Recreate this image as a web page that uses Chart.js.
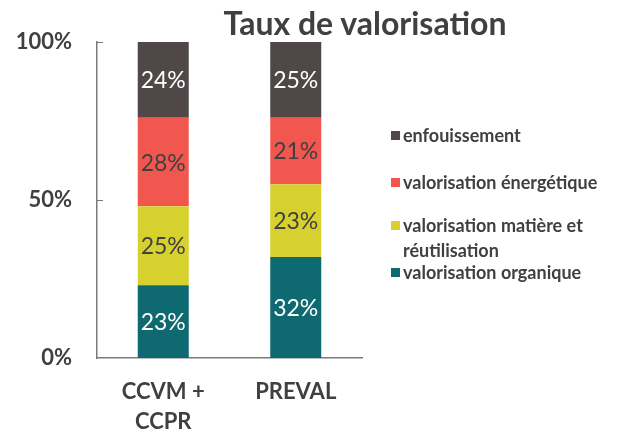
<!DOCTYPE html>
<html>
<head>
<meta charset="utf-8">
<script src="https://cdn.jsdelivr.net/npm/chart.js@4.4.1/dist/chart.umd.min.js"></script>
<style>
  body { margin: 0; background: #fff; }
  #wrap { position: relative; width: 629px; height: 435px; font-family: Lato, "Open Sans", sans-serif; color: #404040; }
  #title { position: absolute; left: 200px; top: 3px; width: 330px; text-align: center; font-size: 32px; font-weight: bold; white-space: nowrap; }
  #legend { position: absolute; left: 391px; top: 123px; font-size: 18px; font-weight: bold; }
  .item { position: absolute; left: 0; white-space: nowrap; line-height: 25px; }
  .item span { position: absolute; left: 0; top: 8px; width: 9px; height: 9px; }
  .item div { margin-left: 12px; }
</style>
</head>
<body>
<div id="wrap">
  <canvas id="chart" width="629" height="435"></canvas>
  <div id="title">Taux de valorisation</div>
  <div id="legend"></div>
</div>
<script>
const categories = [["CCVM +", "CCPR"], "PREVAL"];
const seriesNames = ["valorisation organique", "valorisation matière et réutilisation", "valorisation énergétique", "enfouissement"];
const organique = [23, 32];
const matiere = [25, 23];
const energetique = [28, 21];
const enfouissement = [24, 25];
const yTicks = [0, 50, 100];

const colors = ["#0e6a70", "#d7d12f", "#f1574f", "#504848"];
const labelColors = ["#ffffff", "#404040", "#404040", "#ffffff"];
// legend lines, top to bottom, and their offsets
const legendLines = [["enfouissement"], ["valorisation énergétique"], ["valorisation matière et", "réutilisation"], ["valorisation organique"]];
const legendTops = [0, 47, 90, 137];

const values = [organique, matiere, energetique, enfouissement];

const barLabels = {
  id: 'barLabels',
  afterDatasetsDraw(chart) {
    const ctx = chart.ctx;
    ctx.save();
    ctx.font = '23px Lato';
    ctx.textAlign = 'center';
    ctx.textBaseline = 'middle';
    chart.data.datasets.forEach((ds, i) => {
      chart.getDatasetMeta(i).data.forEach((bar, j) => {
        const top = Math.max(bar.y, chart.chartArea.top);
        ctx.fillStyle = labelColors[i];
        ctx.fillText(ds.data[j] + '%', bar.x, (top + bar.base) / 2 + 1);
      });
    });
    ctx.restore();
  }
};

// small inward ticks on the y axis
const innerTicks = {
  id: 'innerTicks',
  afterDraw(chart) {
    const ctx = chart.ctx, y = chart.scales.y, left = chart.chartArea.left;
    ctx.save();
    ctx.strokeStyle = '#7a7a7a';
    ctx.lineWidth = 1;
    y.ticks.forEach(t => {
      if (t.value === 0) return;
      const py = Math.round(y.getPixelForValue(t.value)) + 0.5;
      ctx.beginPath();
      ctx.moveTo(left, py);
      ctx.lineTo(left + 6, py);
      ctx.stroke();
    });
    ctx.restore();
  }
};

new Chart(document.getElementById('chart'), {
  type: 'bar',
  data: {
    labels: categories,
    datasets: seriesNames.map((name, i) => ({
      label: name,
      data: values[i],
      backgroundColor: colors[i],
      barPercentage: 0.385,
      categoryPercentage: 1
    }))
  },
  options: {
    responsive: false,
    animation: false,
    layout: { padding: { top: 42, right: 267, left: 0, bottom: 0 } },
    plugins: { legend: { display: false }, tooltip: { enabled: false } },
    scales: {
      x: {
        stacked: true,
        grid: { display: false },
        border: { color: '#7a7a7a', width: 1.5 },
        ticks: { color: '#404040', font: { family: 'Lato', size: 22, weight: 'bold', lineHeight: 1.36 }, padding: 11, maxRotation: 0 },
        afterFit(scale) { scale.height = 77; }
      },
      y: {
        stacked: true,
        min: 0,
        max: 100,
        afterBuildTicks(scale) { scale.ticks = yTicks.map(v => ({ value: v })); },
        grid: { display: false },
        border: { color: '#7a7a7a', width: 1.5 },
        ticks: { color: '#404040', font: { family: 'Lato', size: 22, weight: 'bold' }, padding: 17, callback: v => v + '%' },
        afterFit(scale) { scale.width = 97; }
      }
    }
  },
  plugins: [barLabels, innerTicks]
});

const legend = document.getElementById('legend');
legendLines.forEach((lines, k) => {
  const item = document.createElement('div');
  item.className = 'item';
  item.style.top = legendTops[k] + 'px';
  const box = document.createElement('span');
  box.style.background = colors[colors.length - 1 - k];
  item.appendChild(box);
  const txt = document.createElement('div');
  txt.innerHTML = lines.join('<br>');
  item.appendChild(txt);
  legend.appendChild(item);
});
</script>
</body>
</html>
